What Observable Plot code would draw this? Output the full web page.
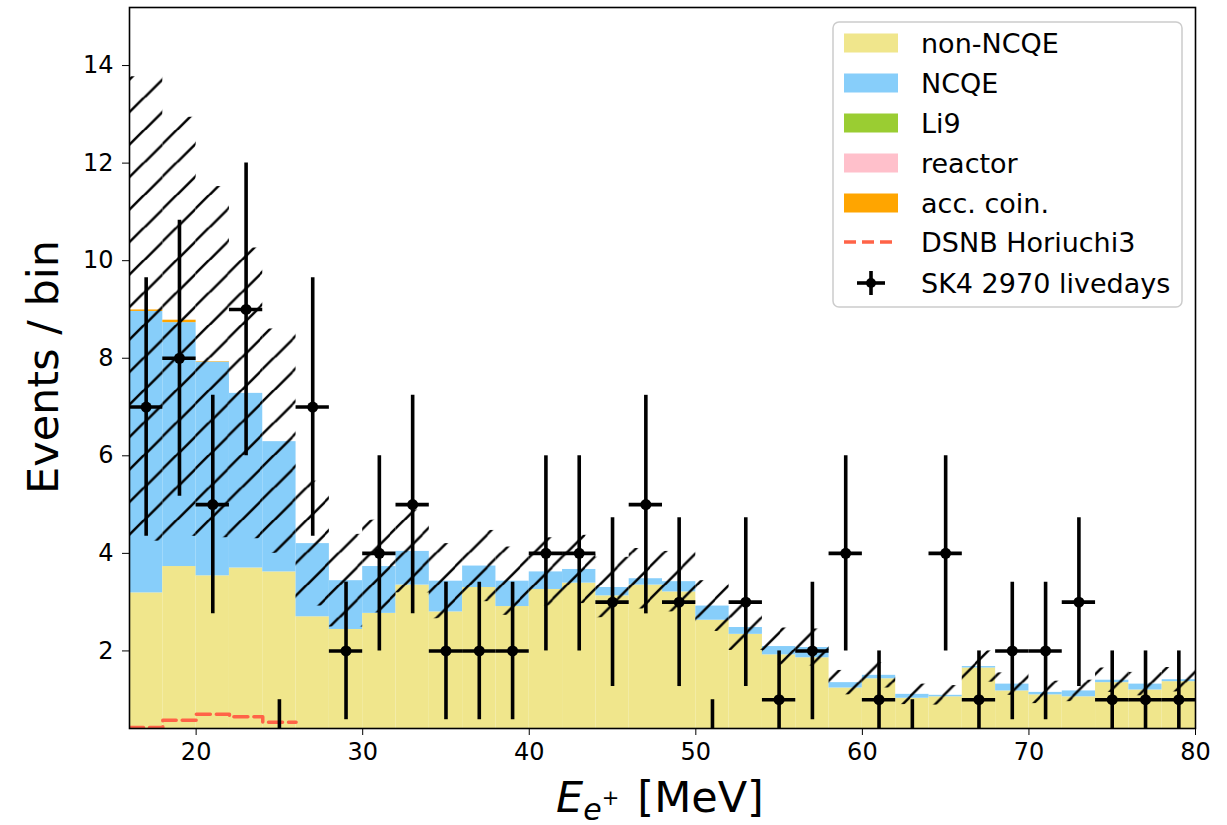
<!DOCTYPE html>
<html>
<head>
<meta charset="utf-8">
<script src="https://cdn.jsdelivr.net/npm/d3@7"></script>
<script src="https://cdn.jsdelivr.net/npm/@observablehq/plot@0.6"></script>
<style>
  html, body { margin: 0; padding: 0; background: #fff; }
  #chart { width: 1227px; height: 825px; }
</style>
</head>
<body>
<div id="chart"></div>
<script>
// ---------- data ----------
const binEdges = [16,18,20,22,24,26,28,30,32,34,36,38,40,42,44,46,48,50,52,54,56,58,60,62,64,66,68,70,72,74,76,78,80];
const binCenters = [17,19,21,23,25,27,29,31,33,35,37,39,41,43,45,47,49,51,53,55,57,59,61,63,65,67,69,71,73,75,77,79];

const componentNames = ["non-NCQE", "NCQE", "Li9", "reactor", "acc. coin."];
const componentColors = ["#F0E68C", "#87CEFA", "#9ACD32", "#FFC0CB", "#FFA500"];

const nonNCQE = [3.19,3.73,3.54,3.70,3.62,2.70,2.44,2.77,3.35,2.80,3.30,2.91,3.26,3.39,3.13,3.35,3.21,2.63,2.34,1.92,1.86,1.24,1.43,1.03,1.06,1.65,1.18,1.10,1.06,1.35,1.20,1.37];
const NCQE    = [5.77,5.00,4.38,3.58,2.67,1.50,1.00,0.96,0.69,0.63,0.44,0.52,0.36,0.28,0.17,0.13,0.21,0.29,0.14,0.17,0.21,0.11,0.07,0.08,0.03,0.03,0.14,0.05,0.12,0.05,0.12,0.04];
const li9     = [0,0,0,0,0,0,0,0,0,0,0,0,0,0,0,0,0,0,0,0,0,0,0,0,0,0,0,0,0,0,0,0];
const reactor = [0,0,0,0,0,0,0,0,0,0,0,0,0,0,0,0,0,0,0,0,0,0,0,0,0,0,0,0,0,0,0,0];
const accCoin = [0.03,0.05,0.01,0,0,0,0,0,0,0,0,0,0,0,0,0,0,0,0,0,0,0,0,0,0,0,0,0,0,0,0,0];

// systematic uncertainty band (hatched)
const bandLow  = [4.25,4.35,4.32,4.30,4.00,2.92,2.49,2.78,3.19,2.66,3.01,2.73,2.92,2.97,2.68,2.86,2.80,2.40,2.01,1.71,1.69,1.10,1.24,0.90,0.89,1.36,1.09,0.92,0.96,1.15,1.08,1.16];
const bandHigh = [13.77,12.94,11.52,10.26,8.60,5.48,4.39,4.68,4.89,4.20,4.47,4.13,4.32,4.37,3.92,4.10,4.04,3.44,2.95,2.47,2.45,1.60,1.76,1.32,1.29,2.00,1.55,1.38,1.40,1.65,1.56,1.66];

// DSNB Horiuchi3 (step, 16-26 MeV)
const dsnbEdges  = [16,18,20,22,24,26];
const dsnbValues = [0.43,0.58,0.70,0.65,0.54];

// SK4 2970 livedays data
const counts  = [7,8,5,9,0,7,2,4,5,2,2,2,4,4,3,5,3,0,3,1,2,4,1,0,4,1,2,2,3,1,1,1];
const errLow  = [2.65,2.83,2.24,3,0,2.65,1.41,2,2.24,1.41,1.41,1.41,2,2,1.73,2.24,1.73,0,1.73,1,1.41,2,1,0,2,1,1.41,1.41,1.73,1,1,1];
const errHigh = [2.65,2.83,2.24,3,1,2.65,1.41,2,2.24,1.41,1.41,1.41,2,2,1.73,2.24,1.73,1,1.73,1,1.41,2,1,1,2,1,1.41,1.41,1.73,1,1,1];

const xTicks = [20,30,40,50,60,70,80];
const yTicks = [2,4,6,8,10,12,14];

// ---------- tables ----------
const compSeries = [nonNCQE, NCQE, li9, reactor, accCoin];
const stackRows = [];
for (let i = 0; i < binCenters.length; i++) {
  let base = 0;
  compSeries.forEach((s, k) => {
    const v = s[i];
    if (v > 0) stackRows.push({x1: binEdges[i], x2: binEdges[i+1], y1: base, y2: base + v, comp: componentNames[k]});
    base += v;
  });
}
const bandRows = binCenters.map((c, i) => ({x1: binEdges[i], x2: binEdges[i+1], lo: bandLow[i], hi: bandHigh[i]}));
const dsnbPts = dsnbEdges.map((e, i) => ({x: e, y: dsnbValues[Math.min(i, dsnbValues.length - 1)]}));
const pts = binCenters.map((c, i) => ({
  x: c, n: counts[i], lo: counts[i] - errLow[i], hi: counts[i] + errHigh[i],
  xl: binEdges[i], xr: binEdges[i+1]
}));

// ---------- plot ----------
const plot = Plot.plot({
  width: 1227,
  height: 825,
  marginLeft: 129,
  marginRight: 32,
  marginTop: 7,
  marginBottom: 97,
  style: {fontFamily: "DejaVu Sans", fontSize: "24px", background: "white", color: "black", overflow: "visible"},
  x: {domain: [16, 80], ticks: xTicks, tickSize: 7, tickPadding: 7, label: null, tickFormat: d => String(d)},
  y: {domain: [0.41, 15.19], ticks: yTicks, tickSize: 7, tickPadding: 9, label: null, tickFormat: d => String(d)},
  color: {domain: componentNames, range: componentColors},
  marks: [
    Plot.rect(stackRows, {x1: "x1", x2: "x2", y1: "y1", y2: "y2", fill: "comp", clip: true}),
    Plot.line(dsnbPts, {x: "x", y: "y", curve: "step-after", stroke: "#FF6347", strokeWidth: 3.5, strokeDasharray: "14,6", clip: true}),
    Plot.rect(bandRows, {x1: "x1", x2: "x2", y1: "lo", y2: "hi", fill: "url(#hatch)", clip: true}),
    Plot.ruleX(pts, {x: "x", y1: "lo", y2: "hi", stroke: "black", strokeWidth: 3.6, clip: true}),
    Plot.ruleY(pts, {y: "n", x1: "xl", x2: "xr", stroke: "black", strokeWidth: 3.6, clip: true}),
    Plot.dot(pts, {x: "x", y: "n", r: 5.5, fill: "black", stroke: "none", clip: true}),
    Plot.frame({stroke: "black", strokeWidth: 1.6})
  ]
});

document.getElementById("chart").appendChild(plot);

// ---------- hatch pattern ----------
const svg = d3.select(plot);
const defs = svg.insert("defs", ":first-child");
const pat = defs.append("pattern")
  .attr("id", "hatch")
  .attr("patternUnits", "userSpaceOnUse")
  .attr("width", 32.5)
  .attr("height", 32.5);
pat.append("path")
  .attr("d", "M-2,16L16,-2M12.5,34.5L34.5,12.5")
  .attr("stroke", "black")
  .attr("stroke-width", 2.4)
  .attr("fill", "none");

// ---------- axis labels ----------
svg.append("text")
  .attr("transform", "translate(58,367) rotate(-90)")
  .attr("text-anchor", "middle")
  .attr("font-family", "DejaVu Sans")
  .attr("font-size", 43)
  .attr("fill", "black")
  .text("Events / bin");

const xl = svg.append("text")
  .attr("x", 660).attr("y", 812)
  .attr("text-anchor", "middle")
  .attr("font-family", "DejaVu Sans")
  .attr("font-size", 43)
  .attr("fill", "black");
xl.append("tspan").attr("font-style", "italic").text("E");
xl.append("tspan").attr("font-style", "italic").attr("font-size", 30).attr("dy", 8).text("e");
xl.append("tspan").attr("font-size", 21).attr("dy", -15).text("+");
xl.append("tspan").attr("font-size", 43).attr("dy", 7).attr("dx", 18).text("[MeV]");

// ---------- legend ----------
const lg = svg.append("g").attr("font-family", "DejaVu Sans").attr("font-size", 27).attr("text-anchor", "start");
lg.append("rect")
  .attr("x", 833).attr("y", 22).attr("width", 349).attr("height", 285)
  .attr("rx", 6).attr("fill", "white").attr("fill-opacity", 0.85)
  .attr("stroke", "#cccccc").attr("stroke-width", 1.5);
const rowY = [43, 83, 123, 163, 203, 242, 283];
componentNames.forEach((name, k) => {
  lg.append("rect").attr("x", 844).attr("y", rowY[k] - 9.5).attr("width", 54).attr("height", 19).attr("fill", componentColors[k]);
  lg.append("text").attr("x", 921).attr("y", rowY[k]).attr("dy", "0.36em").attr("text-anchor", "start").attr("fill", "black").text(name);
});
lg.append("line").attr("x1", 844).attr("x2", 898).attr("y1", rowY[5]).attr("y2", rowY[5])
  .attr("stroke", "#FF6347").attr("stroke-width", 3.5).attr("stroke-dasharray", "12,6");
lg.append("text").attr("x", 921).attr("y", rowY[5]).attr("dy", "0.36em").attr("text-anchor", "start").attr("fill", "black").text("DSNB Horiuchi3");
lg.append("line").attr("x1", 857).attr("x2", 885).attr("y1", rowY[6]).attr("y2", rowY[6]).attr("stroke", "black").attr("stroke-width", 3.6);
lg.append("line").attr("x1", 871).attr("x2", 871).attr("y1", rowY[6] - 12).attr("y2", rowY[6] + 12).attr("stroke", "black").attr("stroke-width", 3.6);
lg.append("circle").attr("cx", 871).attr("cy", rowY[6]).attr("r", 5).attr("fill", "black");
lg.append("text").attr("x", 921).attr("y", rowY[6]).attr("dy", "0.36em").attr("text-anchor", "start").attr("fill", "black").text("SK4 2970 livedays");
</script>
</body>
</html>
